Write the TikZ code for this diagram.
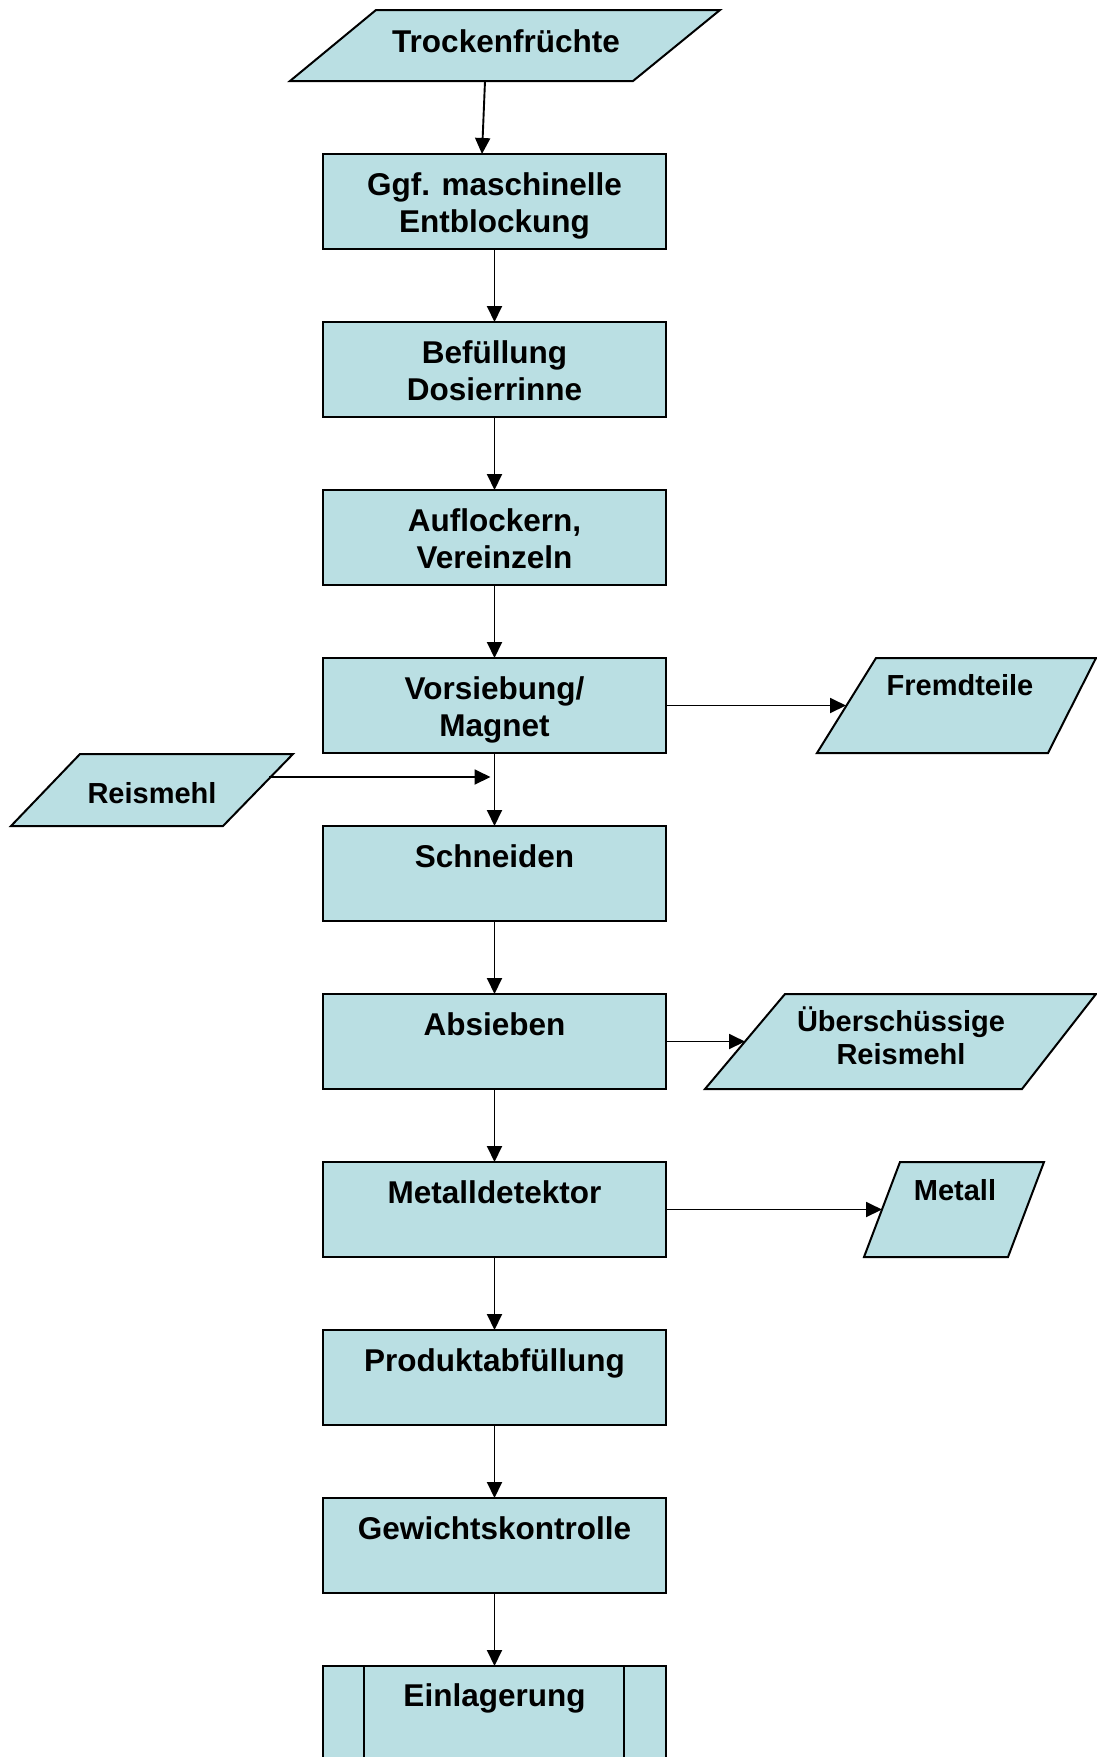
\documentclass[tikz,border=0pt]{standalone}
\usepackage{fontspec}
\setmainfont{Liberation Sans}
\usetikzlibrary{arrows.meta}
\definecolor{boxfill}{RGB}{186,223,227}
\begin{document}
\begin{tikzpicture}[x=1pt,y=-1pt,
  proc/.style={draw, fill=boxfill, line width=2pt, minimum width=343pt, minimum height=95pt, anchor=north, inner sep=0pt, outer sep=0pt},
  data/.style={draw, fill=boxfill, line width=2pt, line join=miter},
  blbl/.style={font=\bfseries\fontsize{31.5}{37}\selectfont, align=center, anchor=base, inner sep=0pt},
  slbl/.style={font=\bfseries\fontsize{29}{33.5}\selectfont, align=center, anchor=base, inner sep=0pt},
  conn/.style={-{Triangle[length=16pt,width=15pt]}, line width=1.9pt}]
\useasboundingbox (0,0) rectangle (1097,1757);

% side / data shapes
\draw[data] (376,10) -- (720,10) -- (633,81) -- (290,81) -- cycle;
\node[blbl] (tr) at (506,52) {Trockenfrüchte};
\coordinate (trout) at (485,81);

\draw[data] (80,754) -- (293,754) -- (223,826) -- (11,826) -- cycle;
\node[slbl] (rm) at (152,803) {Reismehl};
\coordinate (rmout) at (269,777);

\draw[data] (876,658) -- (1096,658) -- (1048,753) -- (817,753) -- cycle;
\node[slbl] (fr) at (960,695) {Fremdteile};
\coordinate (frin) at (846,705.5);

\draw[data] (785,994) -- (1096,994) -- (1022,1089) -- (705,1089) -- cycle;
\node[slbl] (ue) at (901,1064.5) {Überschüssige\\Reismehl};
\coordinate (uein) at (745,1041.5);

\draw[data] (900,1162) -- (1044,1162) -- (1008,1257) -- (864,1257) -- cycle;
\node[slbl] (me) at (955,1200) {Metall};
\coordinate (mein) at (882,1209.5);

% process boxes
\node[proc] (b1) at (494.5,154) {};
\node[proc] (b2) at (494.5,322) {};
\node[proc] (b3) at (494.5,490) {};
\node[proc] (b4) at (494.5,658) {};
\node[proc] (b5) at (494.5,826) {};
\node[proc] (b6) at (494.5,994) {};
\node[proc] (b7) at (494.5,1162) {};
\node[proc] (b8) at (494.5,1330) {};
\node[proc] (b9) at (494.5,1498) {};
\node[proc, minimum height=130pt] (b10) at (494.5,1666) {};
\draw[line width=2pt] ([xshift=41pt]b10.north west) -- ([xshift=41pt]b10.south west);
\draw[line width=2pt] ([xshift=-42pt]b10.north east) -- ([xshift=-42pt]b10.south east);

\node[blbl] (t1) at ([yshift=-78pt]b1.north) {Ggf. maschinelle\\Entblockung};
\node[blbl] (t2) at ([yshift=-78pt]b2.north) {Befüllung\\Dosierrinne};
\node[blbl] (t3) at ([yshift=-78pt]b3.north) {Auflockern,\\Vereinzeln};
\node[blbl] (t4) at ([yshift=-78pt]b4.north) {Vorsiebung/\\Magnet};
\node[blbl] (t5) at ([yshift=-41pt]b5.north) {Schneiden};
\node[blbl] (t6) at ([yshift=-41pt]b6.north) {Absieben};
\node[blbl] (t7) at ([yshift=-41pt]b7.north) {Metalldetektor};
\node[blbl] (t8) at ([yshift=-41pt]b8.north) {Produktabfüllung};
\node[blbl] (t9) at ([yshift=-41pt]b9.north) {Gewichtskontrolle};
\node[blbl] (t10) at ([yshift=-40pt]b10.north) {Einlagerung};

% connectors
\draw[conn] (trout) -- ([xshift=-12.5pt]b1.north);
\draw[conn] (b1.south) -- (b2.north);
\draw[conn] (b2.south) -- (b3.north);
\draw[conn] (b3.south) -- (b4.north);
\draw[conn] (b4.south) -- (b5.north);
\draw[conn] (b5.south) -- (b6.north);
\draw[conn] (b6.south) -- (b7.north);
\draw[conn] (b7.south) -- (b8.north);
\draw[conn] (b8.south) -- (b9.north);
\draw[conn] (b9.south) -- (b10.north);
\draw[conn, shorten >=4pt] (rmout) -- (rmout -| b4.south);
\draw[conn] (b4.east) -- (frin);
\draw[conn] (b6.east) -- (uein);
\draw[conn] (b7.east) -- (mein);
\end{tikzpicture}
\end{document}
